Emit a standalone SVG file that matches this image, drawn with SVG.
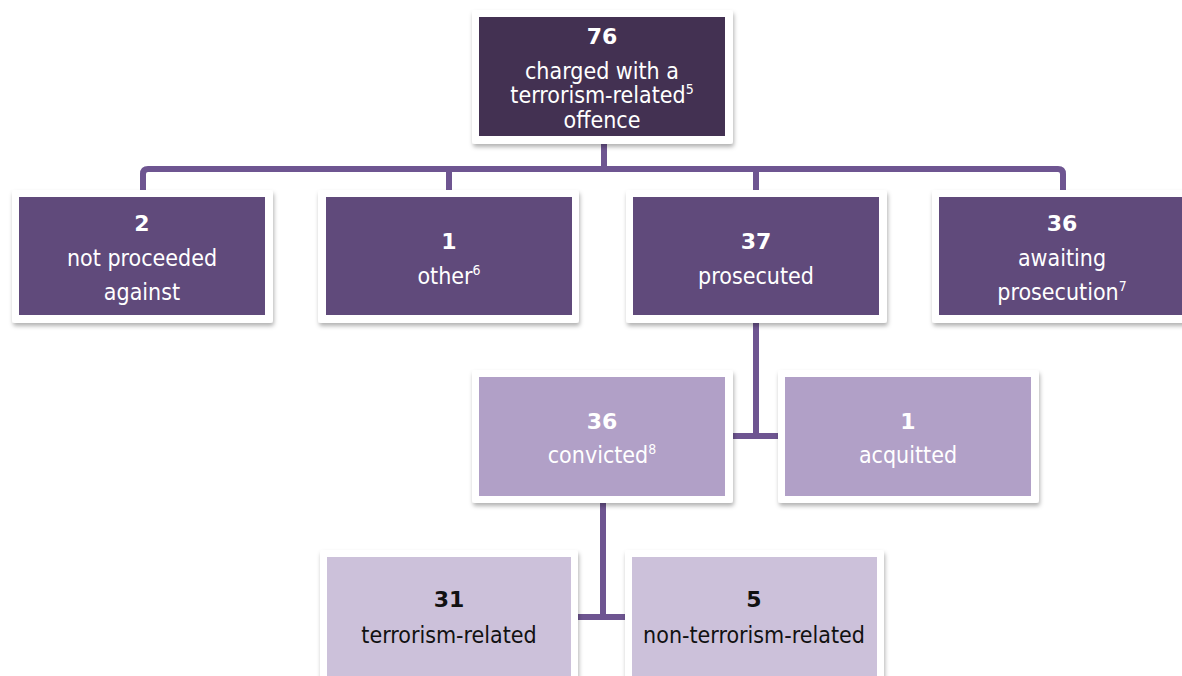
<svg xmlns="http://www.w3.org/2000/svg" width="1182" height="676" viewBox="0 0 1182 676">
<defs>
<filter id="sh" x="-10%" y="-10%" width="120%" height="130%">
<feDropShadow dx="1" dy="3" stdDeviation="2" flood-color="#000" flood-opacity="0.3"/>
</filter>
<style>
.frame{fill:#fff;filter:url(#sh)}
.l1{fill:#433152}
.l2{fill:#604a7b}
.l3{fill:#b1a0c7}
.l4{fill:#ccc1da}
text{font-family:"DejaVu Sans Condensed","DejaVu Sans",sans-serif;font-stretch:condensed;font-size:23px;text-anchor:middle}
.w{fill:#fff}
.k{fill:#111}
.b{font-family:"DejaVu Sans",sans-serif;font-stretch:normal;font-weight:bold;font-size:22px}
.sup{font-size:14px}
.con{fill:none;stroke:#6e5591;stroke-width:6;stroke-linejoin:round}
</style>
</defs>
<rect width="1182" height="676" fill="#fff"/>
<g id="connectors">
<path class="con" d="M604,144 V169"/>
<path class="con" d="M143,190 V174 Q143,169 148,169 H1058 Q1063,169 1063,174 V190"/>
<path class="con" d="M449,169 V190 M756,169 V190"/>
<path class="con" d="M756,323 V436 M733,436 H778"/>
<path class="con" d="M603,503 V617 M578,617 H625"/>
</g>
<g id="n-charged">
<rect class="frame" x="472" y="10" width="261" height="134" rx="3"/>
<rect class="l1" x="479" y="17" width="246" height="119"/>
<text class="w b" x="602" y="44">76</text>
<text class="w" x="602" y="79">charged with a</text>
<text class="w" x="602" y="103">terrorism-related<tspan class="sup" dy="-9">5</tspan></text>
<text class="w" x="602" y="128">offence</text>
</g>
<g id="n-npa">
<rect class="frame" x="12" y="190" width="261" height="133" rx="3"/>
<rect class="l2" x="19" y="197" width="246" height="118"/>
<text class="w b" x="142" y="231">2</text>
<text class="w" x="142" y="266">not proceeded</text>
<text class="w" x="142" y="300">against</text>
</g>
<g id="n-other">
<rect class="frame" x="318" y="190" width="261" height="133" rx="3"/>
<rect class="l2" x="326" y="197" width="246" height="118"/>
<text class="w b" x="449" y="249">1</text>
<text class="w" x="449" y="284">other<tspan class="sup" dy="-9">6</tspan></text>
</g>
<g id="n-prosecuted">
<rect class="frame" x="626" y="190" width="261" height="133" rx="3"/>
<rect class="l2" x="633" y="197" width="246" height="118"/>
<text class="w b" x="756" y="249">37</text>
<text class="w" x="756" y="284">prosecuted</text>
</g>
<g id="n-awaiting">
<rect class="frame" x="932" y="190" width="261" height="133" rx="3"/>
<rect class="l2" x="939" y="197" width="246" height="118"/>
<text class="w b" x="1062" y="231">36</text>
<text class="w" x="1062" y="266">awaiting</text>
<text class="w" x="1062" y="300">prosecution<tspan class="sup" dy="-9">7</tspan></text>
</g>
<g id="n-convicted">
<rect class="frame" x="472" y="370" width="261" height="133" rx="3"/>
<rect class="l3" x="479" y="377" width="246" height="119"/>
<text class="w b" x="602" y="429">36</text>
<text class="w" x="602" y="463">convicted<tspan class="sup" dy="-9">8</tspan></text>
</g>
<g id="n-acquitted">
<rect class="frame" x="778" y="370" width="261" height="133" rx="3"/>
<rect class="l3" x="785" y="377" width="246" height="119"/>
<text class="w b" x="908" y="429">1</text>
<text class="w" x="908" y="463">acquitted</text>
</g>
<g id="n-terr">
<rect class="frame" x="320" y="550" width="258" height="140" rx="3"/>
<rect class="l4" x="327" y="557" width="244" height="130"/>
<text class="k b" x="449" y="607">31</text>
<text class="k" x="449" y="643">terrorism-related</text>
</g>
<g id="n-nonterr">
<rect class="frame" x="625" y="550" width="259" height="140" rx="3"/>
<rect class="l4" x="632" y="557" width="245" height="130"/>
<text class="k b" x="754" y="607">5</text>
<text class="k" x="754" y="643">non-terrorism-related</text>
</g>
</svg>
